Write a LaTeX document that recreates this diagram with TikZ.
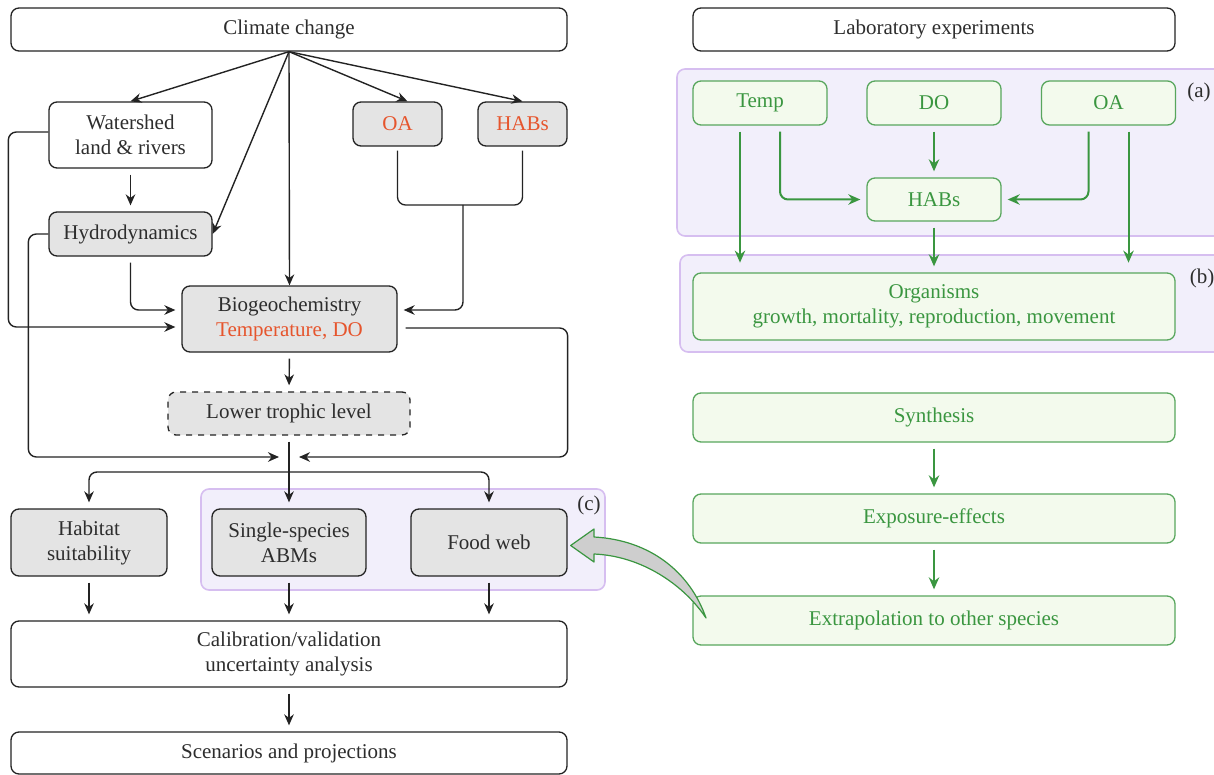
\documentclass[tikz,border=0pt]{standalone}
\usepackage{fontspec}
\setmainfont{Liberation Serif}
\usetikzlibrary{arrows.meta}
\definecolor{boxgray}{RGB}{228,228,228}
\definecolor{linegray}{RGB}{35,35,35}
\definecolor{textgray}{RGB}{45,45,45}
\definecolor{orangetext}{RGB}{230,85,45}
\definecolor{labgreen}{RGB}{58,150,64}
\definecolor{labfill}{RGB}{243,250,237}
\definecolor{grpfill}{RGB}{242,239,251}
\definecolor{grpborder}{RGB}{214,190,240}
\definecolor{blockgray}{RGB}{206,206,206}
\begin{document}
\begin{tikzpicture}[x=0.5pt,y=-0.5pt,font=\fontsize{10.5}{12.5}\selectfont]
        \tikzstyle{plain}=[rectangle,rounded corners=4pt,draw=linegray,line width=0.65pt,align=center,inner sep=0pt,text=textgray]
        \tikzstyle{shaded}=[plain,fill=boxgray]
        \tikzstyle{labbox}=[rectangle,rounded corners=4pt,draw=labgreen!85,line width=0.65pt,fill=labfill,text=labgreen,align=center,inner sep=0pt]
        \tikzstyle{group}=[rectangle,draw=grpborder,fill=grpfill,rounded corners=4pt,line width=0.8pt,inner sep=0pt]
        \tikzstyle{tag}=[text=textgray,inner sep=0pt]
        \tikzstyle{edge}=[draw=linegray,line width=0.7pt,rounded corners=4pt,-{Stealth[length=5.5pt,width=4.8pt]}]
        \tikzstyle{line}=[draw=linegray,line width=0.65pt,rounded corners=4pt]
        \tikzstyle{gap}=[shorten <=3pt,shorten >=3pt]
        \tikzstyle{gedge}=[draw=labgreen,line width=1pt,rounded corners=4pt,-{Stealth[length=6pt,width=5.2pt]}]
        \useasboundingbox (0,0) rectangle (1214,775);
        % groups
        \node [group,minimum width=202pt,minimum height=50.5pt] (grpc) at (403,539.5) {};
        \node [group,minimum width=273.5pt,minimum height=83.5pt] (grpa) at (950.5,152.5) {};
        \node [group,minimum width=272pt,minimum height=48.5pt] (grpb) at (952,303.5) {};
        \node [tag] (taga) at (1199,92) {(a)};
        \node [tag] (tagb) at (1202,278) {(b)};
        \node [tag] (tagc) at (589,505) {(c)};
        % model side
        \node [plain,minimum width=278pt,minimum height=21.5pt] (cc) at (289,29.5) {Climate change};
        \node [plain,minimum width=81.5pt,minimum height=33pt] (ws) at (130.5,135) {Watershed\\land \& rivers};
        \node [shaded,minimum width=81.5pt,minimum height=22pt] (hyd) at (130.5,234) {Hydrodynamics};
        \node [shaded,minimum width=44.5pt,minimum height=22pt,text=orangetext] (oa) at (397.5,124) {OA};
        \node [shaded,minimum width=44.5pt,minimum height=22pt,text=orangetext] (habs) at (522.5,124) {HABs};
        \node [shaded,minimum width=107.5pt,minimum height=33pt] (bgc) at (289.5,319) {Biogeochemistry\\\textcolor{orangetext}{Temperature, DO}};
        \node [shaded,dashed,minimum width=121pt,minimum height=21.5pt] (ltl) at (289,413.5) {Lower trophic level};
        \node [shaded,minimum width=78pt,minimum height=33.5pt] (hab) at (89,542.5) {Habitat\\suitability};
        \node [shaded,minimum width=77pt,minimum height=33.5pt] (ssa) at (289,542.5) {Single-species\\ABMs};
        \node [shaded,minimum width=78pt,minimum height=33.5pt] (fw) at (489,542.5) {Food web};
        \node [plain,minimum width=278pt,minimum height=33pt] (cal) at (289,654) {Calibration/validation\\uncertainty analysis};
        \node [plain,minimum width=278pt,minimum height=21pt] (scn) at (289,753) {Scenarios and projections};
        % laboratory side
        \node [plain,minimum width=241pt,minimum height=21.5pt] (lab) at (934,29.5) {Laboratory experiments};
        \node [labbox,minimum width=67pt,minimum height=22pt] (temp) at (760,103) {Temp};
        \node [labbox,minimum width=67pt,minimum height=22pt] (do) at (934,103) {DO};
        \node [labbox,minimum width=67pt,minimum height=22pt] (oar) at (1108.5,103) {OA};
        \node [labbox,minimum width=67pt,minimum height=21.5pt] (habr) at (934,199.5) {HABs};
        \node [labbox,minimum width=241pt,minimum height=33.5pt] (org) at (934,306.5) {Organisms\\growth, mortality, reproduction, movement};
        \node [labbox,minimum width=241pt,minimum height=24.5pt] (syn) at (934,417.5) {Synthesis};
        \node [labbox,minimum width=241pt,minimum height=24.5pt] (expo) at (934,518.5) {Exposure-effects};
        \node [labbox,minimum width=241pt,minimum height=24.5pt] (ext) at (934,620.5) {Extrapolation to other species};
        \coordinate (br) at (463,205);
        \coordinate (jn) at (289,457);
        \coordinate (fk) at (289,472);
        % climate change fan
        \path[edge] (cc.south) -- (ws.north);
        \path[edge] (cc.south) -- (hyd.east);
        \path[edge] (cc.south) -- (bgc.north);
        \path[edge] (cc.south) -- ([xshift=5pt]oa.north);
        \path[edge] (cc.south) -- (habs.north);
        % drivers into biogeochemistry
        \path[edge,gap] (ws.south) -- (hyd.north);
        \path[edge,shorten >=3pt] ([yshift=1.5pt]ws.west) -- ++(-40,0) |- ([yshift=-4pt]bgc.west);
        \path[edge,gap] (hyd.south) |- ([yshift=4.5pt]bgc.west);
        \path[line] ([yshift=-2pt]oa.south) |- (br) -| ([yshift=-2pt]habs.south);
        \path[edge,shorten >=3pt] (br) |- ([yshift=4.5pt]bgc.east);
        \path[edge,gap] (bgc.south) -- (ltl.north);
        % merge and fork
        \path[edge] (hyd.west) -- ++(-20,0) |- ([xshift=-5pt]jn);
        \path[edge,shorten <=4pt] ([yshift=-4.5pt]bgc.east) -- ++(170,0) |- ([xshift=5pt]jn);
        \path[edge,gap] (ltl.south) -- (ssa.north);
        \path[edge,shorten >=3pt] (fk) -| (hab.north);
        \path[edge,shorten >=3pt] (fk) -| (fw.north);
        \path[edge,gap] (hab.south) -- (hab.south |- cal.north);
        \path[edge,gap] (ssa.south) -- (cal.north);
        \path[edge,gap] (fw.south) -- (fw.south |- cal.north);
        \path[edge,gap] (cal.south) -- (scn.north);
        % laboratory arrows
        \path[gedge,gap] ([xshift=-10pt]temp.south) -- ++(0,143);
        \path[gedge,gap] ([xshift=10pt]temp.south) |- (habr.west);
        \path[gedge,gap] (do.south) -- (habr.north);
        \path[gedge,gap] ([xshift=-10pt]oar.south) |- (habr.east);
        \path[gedge,gap] ([xshift=10pt]oar.south) -- ++(0,143);
        \path[gedge,gap] (habr.south) -- (org.north);
        \path[gedge,gap] (syn.south) -- (expo.north);
        \path[gedge,gap] (expo.south) -- (ext.north);
        % block arrow from extrapolation to food web
        \coordinate (tail) at (706,618);
        \coordinate (tip) at ([xshift=1.5pt,yshift=-1.5pt]fw.east);
        \draw[fill=blockgray,draw=labgreen,line width=0.6pt,line join=round]
          (tail) .. controls (690,572) and (650,540) .. (594,537) -- (594,529) -- (tip)
          -- (594,562) -- (594,554) .. controls (642,556) and (684,585) .. (tail) -- cycle;
\end{tikzpicture}
\end{document}
